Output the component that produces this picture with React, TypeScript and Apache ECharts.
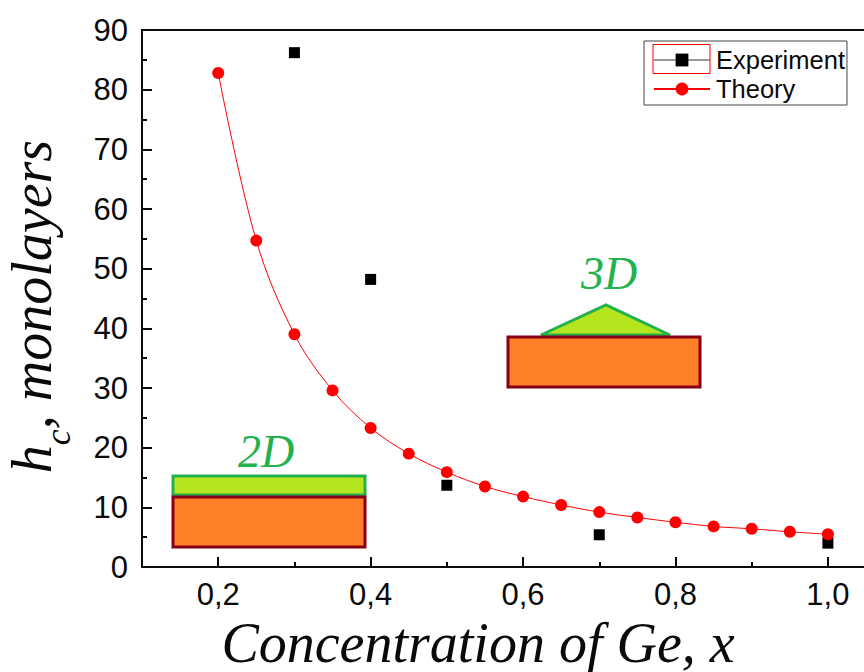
import React, { useEffect, useRef } from "react";
import * as echarts from "echarts";

const theoryX = [0.2, 0.25, 0.3, 0.35, 0.4, 0.45, 0.5, 0.55, 0.6, 0.65, 0.7, 0.75, 0.8, 0.85, 0.9, 0.95, 1.0];
const theoryY = [82.8, 54.7, 39, 29.6, 23.3, 19, 15.9, 13.5, 11.8, 10.4, 9.2, 8.3, 7.5, 6.8, 6.4, 5.9, 5.5];
const expX = [0.3, 0.4, 0.5, 0.7, 1.0];
const expY = [86.2, 48.2, 13.7, 5.4, 4.0];
const xMajor = [0.2, 0.4, 0.6, 0.8, 1.0];
const xMinor = [0.3, 0.5, 0.7, 0.9];
const SANS = "'Liberation Sans', Arial, sans-serif";
const SERIF = "'Liberation Serif', 'Times New Roman', serif";
const INK = "#0a0a0a";

const zip = (a: number[], b: number[]) => a.map((v, i) => [v, b[i]]);

export default function App() {
  const ref = useRef<HTMLDivElement>(null);
  useEffect(() => {
    const chart = echarts.init(ref.current!, null, { renderer: "svg" });
    const orange = "#ff7f27";
    const lime = "#b5e61d";
    const green = "#22b14c";
    const dark = "#880015";
    const axisLine = { show: true, lineStyle: { color: INK, width: 2 } };
    chart.setOption({
      animation: false,
      backgroundColor: "#fff",
      grid: { left: 142, right: -2, top: 30, bottom: 105, containLabel: false, outerBoundsMode: "none" },
      legend: {
        left: 644,
        top: 41,
        width: 206,
        orient: "vertical",
        padding: [6, 2, 3, 9],
        itemGap: 3,
        itemWidth: 56,
        itemHeight: 16,
        borderColor: "#444",
        borderWidth: 1,
        textStyle: { fontFamily: SANS, fontSize: 25.5, color: INK, padding: [0, 0, 0, 1] },
        data: [
          { name: "Experiment", lineStyle: { color: "#777", width: 1.5, opacity: 1 }, itemStyle: { color: "#000" } },
          { name: "Theory" },
        ],
      },
      xAxis: [
        {
          type: "value", min: 0.1, max: 1.05, position: "bottom",
          axisLine,
          splitLine: { show: false },
          axisTick: { show: true, inside: true, length: 10, lineStyle: { color: INK, width: 2 }, customValues: xMajor },
          axisLabel: {
            show: true, fontFamily: SANS, fontSize: 31, color: INK, margin: 12, customValues: xMajor,
            formatter: (v: number) => v.toFixed(1).replace(".", ","),
          },
          name: "Concentration of Ge, x",
          nameLocation: "middle",
          nameGap: 51,
          nameTextStyle: { fontFamily: SERIF, fontStyle: "italic", fontSize: 56, lineHeight: 46, color: INK, padding: [0, 0, 0, -52] },
        },
        {
          type: "value", min: 0.1, max: 1.05, position: "bottom",
          axisLine: { show: false },
          splitLine: { show: false },
          axisTick: { show: true, inside: true, length: 5, lineStyle: { color: INK, width: 2 }, customValues: xMinor },
          axisLabel: { show: false },
        },
        {
          type: "value", min: 0.1, max: 1.05, position: "top",
          axisLine,
          axisTick: { show: false }, axisLabel: { show: false }, splitLine: { show: false },
        },
      ],
      yAxis: {
        type: "value", min: 0, max: 90, interval: 10,
        axisLine,
        splitLine: { show: false },
        axisTick: { show: true, inside: true, length: 10, lineStyle: { color: INK, width: 2 } },
        minorTick: { show: true, splitNumber: 2, length: 5, lineStyle: { color: INK, width: 2 } },
        axisLabel: { fontFamily: SANS, fontSize: 31, color: INK, margin: 14, padding: [0, 0, 3, 0] },
        name: "{i|h}{s|c}{i|, monolayers}",
        nameLocation: "middle",
        nameGap: 66,
        nameTextStyle: {
          padding: [0, 16, 0, 0],
          rich: {
            i: { fontFamily: SERIF, fontStyle: "italic", fontSize: 56, color: INK, padding: [0, 0, 16, 0], verticalAlign: "bottom" },
            s: { fontFamily: SERIF, fontStyle: "italic", fontSize: 36, color: INK, verticalAlign: "bottom" },
          },
        },
      },
      series: [
        {
          name: "Experiment", type: "line", xAxisIndex: 0,
          data: zip(expX, expY),
          symbol: "rect", symbolSize: 11,
          itemStyle: { color: "#000" },
          lineStyle: { opacity: 0 },
          z: 3,
        },
        {
          name: "Theory", type: "line", xAxisIndex: 0, smooth: 0.35,
          data: zip(theoryX, theoryY),
          symbol: "circle", symbolSize: 12,
          itemStyle: { color: "#ff0000" },
          lineStyle: { color: "#ff0000", width: 1 },
          z: 4,
        },
      ],
      graphic: [
        { type: "rect", z: 10, shape: { x: 653, y: 44.5, width: 57, height: 29 }, style: { fill: "none", stroke: "#ff0000", lineWidth: 1 } },
        { type: "rect", z: 1, shape: { x: 173, y: 476, width: 192, height: 19 }, style: { fill: lime, stroke: green, lineWidth: 3 } },
        { type: "rect", z: 1, shape: { x: 173, y: 497, width: 192, height: 50 }, style: { fill: orange, stroke: dark, lineWidth: 3 } },
        { type: "polygon", z: 1, shape: { points: [[541, 335], [606, 305], [670, 335]] }, style: { fill: lime, stroke: green, lineWidth: 3 } },
        { type: "rect", z: 1, shape: { x: 508, y: 337, width: 192, height: 50 }, style: { fill: orange, stroke: dark, lineWidth: 3 } },
        { type: "text", z: 2, x: 266, y: 451, style: { text: "2D", fill: green, font: `italic 46px ${SERIF}`, textAlign: "center", textVerticalAlign: "middle" } },
        { type: "text", z: 2, x: 609, y: 273, style: { text: "3D", fill: green, font: `italic 46px ${SERIF}`, textAlign: "center", textVerticalAlign: "middle" } },
      ],
    });
    return () => chart.dispose();
  }, []);
  return <div ref={ref} style={{ position: "absolute", left: 0, top: 0, width: 864, height: 672 }} />;
}
